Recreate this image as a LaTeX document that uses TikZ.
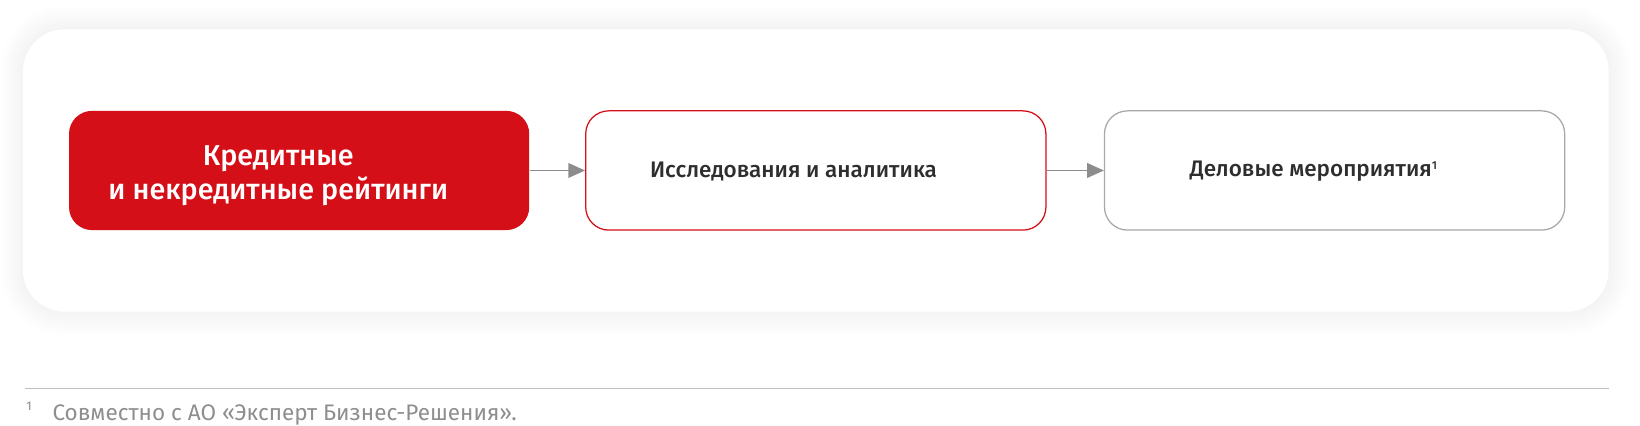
\documentclass[tikz,border=0pt]{standalone}
\usepackage{fontspec}
\setmainfont{Fira Sans}
\newfontfamily\medfont{Fira Sans Medium}
\usetikzlibrary{arrows.meta,backgrounds}

\definecolor{brandred}{HTML}{D50F17}
\definecolor{arrgray}{HTML}{8C8C8C}
\definecolor{boxgray}{HTML}{A8A8A8}
\definecolor{txtdark}{HTML}{2E2E2E}
\definecolor{footgray}{HTML}{8E8E8E}
\definecolor{rulegray}{HTML}{BDBDBD}

\newcommand{\fnmark}{\raisebox{7pt}{\fontsize{11}{11}\selectfont 1}}

\begin{document}
\begin{tikzpicture}[x=1pt, y=-1pt,
        panel/.style={rectangle, rounded corners=40pt, fill=white, minimum width=1516pt, minimum height=270pt},
        box/.style={rectangle, rounded corners=22pt, minimum width=440pt, minimum height=114pt, inner sep=0pt, line width=1.2pt},
        arr/.style={draw=arrgray, line width=1.5pt, -{Triangle[length=16pt, width=14pt]}},
        boxtext/.style={font=\medfont\fontsize{21.5}{26}\selectfont, text=txtdark, anchor=west}]
    \useasboundingbox (0,0) rectangle (1568,406.4);

    % panel and boxes
    \node[panel] (pnl) at (780,163) {};
    \node[box, fill=brandred] (kr) at (286,163) {};
    \node[box, draw=brandred, fill=white] (ia) at (780,163) {};
    \node[box, draw=boxgray, fill=white] (dm) at (1276,163) {};

    % soft shadows
    \begin{scope}[on background layer]
        \fill[white] (0,0) rectangle (1568,406.4);
        \foreach \w in {4,8,...,44}
            \draw[black, line width=\w pt, draw opacity=0.004, rounded corners=40pt] (pnl.north west) rectangle (pnl.south east);
        \foreach \n in {ia,dm}
            \foreach \w in {3,6,...,27}
                \draw[black, line width=\w pt, draw opacity=0.012, rounded corners=22pt, shift={(0,6)}] (\n.north west) rectangle (\n.south east);
    \end{scope}

    % texts
    \node[font=\medfont\fontsize{27.5}{33}\selectfont, text=white, align=center] (krt) at (266,168) {Кредитные\\и некредитные рейтинги};
    \node[boxtext] (iat) at (618,164) {Исследования и аналитика};
    \node[boxtext] (dmt) at (1134,164) {Деловые мероприятия\fnmark};

    % arrows
    \draw[arr] (kr) -- (ia);
    \draw[arr] (ia) -- (dm);

    % footnote
    \draw[rulegray, line width=1pt] (24,371) -- (1538,371);
    \node[anchor=base west, font=\fontsize{12}{12}\selectfont, text=footgray, inner sep=0pt] (fnm) at (25,392) {1};
    \node[anchor=base west, font=\fontsize{21.5}{21}\selectfont, text=footgray, inner sep=0pt] (fnt) at (50,402) {Совместно с АО «Эксперт Бизнес-Решения».};
\end{tikzpicture}
\end{document}
